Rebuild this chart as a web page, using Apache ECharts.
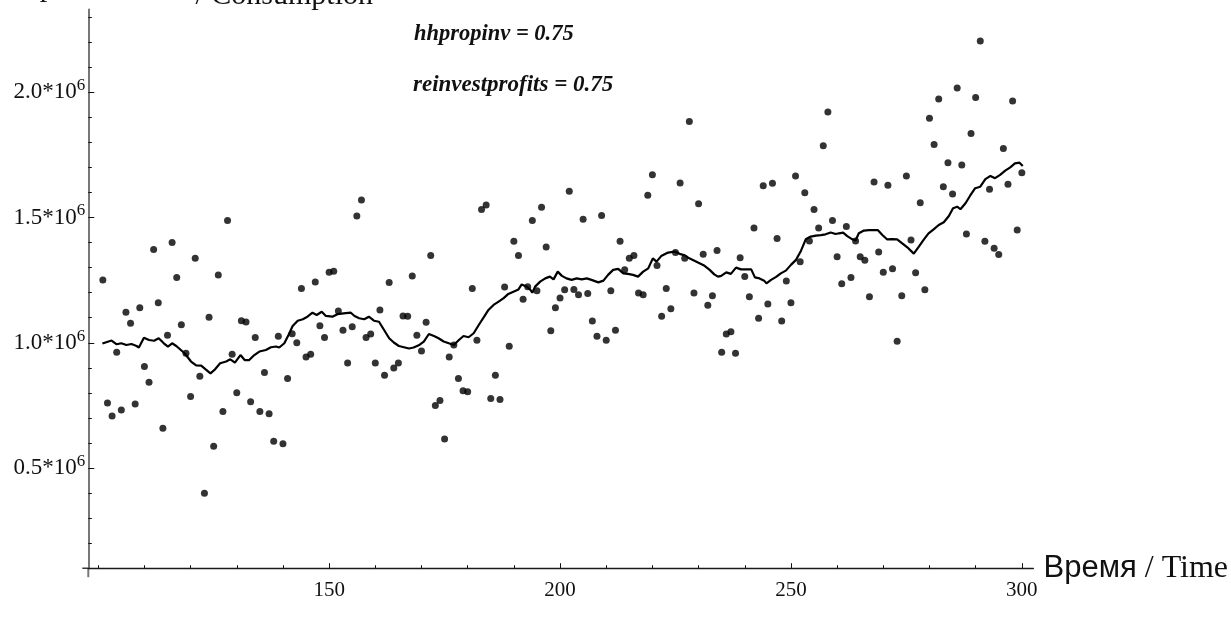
<!DOCTYPE html>
<html><head><meta charset="utf-8">
<script src="https://cdn.jsdelivr.net/npm/echarts@6/dist/echarts.min.js"></script>
<style>html,body{margin:0;padding:0;background:#fff}#c{width:1231px;height:619px}</style>
</head><body><div id="c"></div>
<script>
// Simulated consumption, in units of 10^6, one point per time step starting at firstStep
const firstStep = 101;
const pointValues = [
 1.251,0.760,0.708,0.962,0.732,1.122,1.078,0.756,1.140,0.905,
 0.842,1.372,1.160,0.659,1.030,1.400,1.261,1.072,0.958,0.785,
 1.337,0.866,0.399,1.102,0.587,1.271,0.726,1.488,0.954,0.800,
 1.088,1.083,0.765,1.021,0.726,0.881,0.717,0.607,1.026,0.597,
 0.857,1.036,1.000,1.217,0.943,0.954,1.243,1.068,1.021,1.281,
 1.285,1.127,1.050,0.919,1.064,1.506,1.570,1.021,1.035,0.919,
 1.131,0.870,1.241,0.899,0.919,1.107,1.106,1.267,1.030,0.967,
 1.082,1.348,0.750,0.770,0.616,0.943,0.991,0.857,0.808,0.804,
 1.217,1.010,1.532,1.550,0.778,0.870,0.774,1.223,0.986,1.405,
 1.348,1.174,1.224,1.488,1.208,1.541,1.382,1.048,1.140,1.179,
 1.212,1.605,1.213,1.192,1.493,1.197,1.087,1.026,1.508,1.010,
 1.208,1.050,1.405,1.291,1.337,1.348,1.199,1.192,1.589,1.671,
 1.308,1.106,1.217,1.136,1.360,1.638,1.337,1.883,1.199,1.555,
 1.353,1.150,1.188,1.368,0.962,1.035,1.044,0.958,1.339,1.265,
 1.184,1.458,1.098,1.627,1.155,1.637,1.416,1.087,1.247,1.160,
 1.666,1.323,1.599,1.406,1.532,1.458,1.786,1.921,1.488,1.343,
 1.236,1.464,1.261,1.406,1.343,1.329,1.184,1.642,1.362,1.281,
 1.629,1.295,1.006,1.188,1.666,1.410,1.280,1.559,1.212,1.896,
 1.791,1.973,1.623,1.719,1.594,2.017,1.710,1.434,1.835,1.979,
 2.205,1.405,1.613,1.377,1.352,1.776,1.633,1.965,1.450,1.679
];
const timeSteps = pointValues.map((_, i) => firstStep + i);

// Smoothed curve
const lineTime = [
 100.9,102.9,104.0,105.0,106.1,107.2,108.3,108.8,109.9,111.0,112.1,113.1,114.2,115.1,116.0,116.9,118.7,120.1,121.2,122.3,
 123.2,124.3,125.3,126.4,127.7,128.6,129.6,130.8,131.7,132.7,133.8,134.9,136.3,137.4,138.5,139.2,140.3,141.2,142.1,143.2,
 144.3,145.3,146.4,147.3,148.4,149.3,150.7,151.8,153.6,154.7,155.5,156.5,157.6,158.6,159.7,160.8,161.9,163.0,164.0,165.1,
 166.2,167.3,168.3,169.4,170.5,171.6,172.7,173.7,174.8,175.9,177.0,178.1,179.1,180.2,181.3,182.4,183.5,184.5,185.6,186.7,
 187.8,188.8,189.9,191.0,191.7,192.8,193.5,194.0,194.6,195.7,196.8,197.8,198.6,199.5,200.4,201.4,202.5,203.6,204.7,205.8,
 206.8,208.3,209.4,210.4,211.5,212.6,213.7,214.7,215.8,216.9,218.0,219.1,220.1,220.9,221.9,223.4,224.8,225.9,227.0,228.0,
 229.1,230.2,231.3,232.4,233.4,234.2,234.9,236.0,237.0,238.1,239.2,240.3,241.4,242.2,243.2,244.2,244.7,245.7,246.8,247.8,
 248.9,250.0,251.1,252.1,253.2,254.3,255.4,256.5,257.5,258.6,259.7,260.4,261.3,262.2,263.3,264.0,264.7,265.8,266.9,268.0,
 268.8,269.8,270.8,271.9,273.0,274.1,275.2,276.6,277.7,278.8,279.8,280.9,282.0,283.1,284.2,285.1,286.0,286.7,287.8,288.8,
 289.9,291.0,292.1,293.2,294.2,295.3,296.4,297.5,298.5,299.5,300.2
];
const lineValue = [
 0.997,1.009,0.994,0.998,0.991,0.995,0.987,0.981,1.020,1.011,1.008,1.018,0.998,0.985,0.998,0.987,0.958,0.925,0.910,0.909,
 0.895,0.878,0.894,0.918,0.925,0.934,0.921,0.951,0.931,0.931,0.951,0.965,0.971,0.982,0.985,0.981,0.998,1.031,1.067,1.088,
 1.094,1.104,1.120,1.111,1.124,1.107,1.104,1.114,1.118,1.120,1.107,1.098,1.094,1.104,1.088,1.084,1.051,1.018,1.001,0.987,
 0.982,0.977,0.981,0.990,1.005,1.035,1.027,1.018,1.005,0.998,0.991,1.011,1.027,1.022,1.038,1.071,1.102,1.131,1.151,1.164,
 1.178,1.195,1.204,1.213,1.233,1.224,1.213,1.200,1.224,1.244,1.257,1.264,1.253,1.284,1.267,1.257,1.251,1.257,1.253,1.257,
 1.251,1.241,1.248,1.271,1.291,1.295,1.277,1.275,1.271,1.264,1.284,1.297,1.337,1.324,1.346,1.360,1.364,1.355,1.349,1.337,
 1.327,1.317,1.307,1.291,1.273,1.264,1.267,1.281,1.275,1.300,1.293,1.293,1.293,1.261,1.257,1.248,1.237,1.251,1.263,1.277,
 1.288,1.311,1.331,1.364,1.413,1.424,1.428,1.430,1.433,1.440,1.434,1.437,1.440,1.426,1.413,1.408,1.437,1.448,1.450,1.450,
 1.450,1.430,1.413,1.414,1.413,1.397,1.381,1.356,1.384,1.413,1.437,1.453,1.470,1.481,1.506,1.537,1.543,1.533,1.557,1.587,
 1.617,1.623,1.653,1.666,1.657,1.670,1.687,1.700,1.716,1.719,1.706
];

const xMajorTicks = [150, 200, 250, 300];
const xMinorTicks = [100, 110, 120, 130, 140, 160, 170, 180, 190, 210, 220, 230, 240, 260, 270, 280, 290];
const yMajorTicks = [0.5, 1.0, 1.5, 2.0];
const yMinorTicks = [0.2, 0.3, 0.4, 0.6, 0.7, 0.8, 0.9, 1.1, 1.2, 1.3, 1.4, 1.6, 1.7, 1.8, 1.9, 2.1, 2.2, 2.3];
const paramLabels = ['hhpropinv = 0.75', 'reinvestprofits = 0.75'];
const topTitleRu = 'Потребление';
const topTitleEn = '/ Consumption';
const axisTitleRu = 'Время';
const axisTitleEn = '/ Time';

const SERIF = '"Liberation Serif", "Times New Roman", serif';
const SANS = '"Liberation Sans", Arial, sans-serif';
const X_MIN = 97.85, X_MAX = 302.5, Y_MIN = 0.1, Y_MAX = 2.33;
const GRID_LEFT = 88.3, GRID_TOP = 9.6, PX_PER_X = 4.634, PX_PER_Y = 250.5;
const GRID_W = (X_MAX - X_MIN) * PX_PER_X, GRID_H = (Y_MAX - Y_MIN) * PX_PER_Y;
const GRID_BOTTOM_Y = GRID_TOP + GRID_H;

const chart = echarts.init(document.getElementById('c'), null, {renderer: 'canvas'});
const tickLine = {color: '#111', width: 1};

chart.setOption({
  animation: false,
  backgroundColor: '#fff',
  grid: {left: GRID_LEFT, top: GRID_TOP, width: GRID_W, height: GRID_H, containLabel: false},
  xAxis: [
    {
      type: 'value', min: X_MIN, max: X_MAX, position: 'bottom', offset: 0,
      axisLine: {show: true, onZero: false, lineStyle: {color: '#1a1a1a', width: 1.3}},
      axisTick: {show: true, inside: true, length: 5, customValues: xMajorTicks, lineStyle: tickLine},
      axisLabel: {show: true, customValues: xMajorTicks, margin: 12, fontFamily: SERIF, fontSize: 21, color: '#111'},
      splitLine: {show: false},
      name: '{a|' + axisTitleRu + '}{b| ' + axisTitleEn + '}',
      nameLocation: 'end', nameGap: 5,
      nameTextStyle: {
        verticalAlign: 'middle',
        rich: {
          a: {fontFamily: SANS, fontSize: 31, color: '#111'},
          b: {fontFamily: SERIF, fontSize: 32, color: '#111'}
        }
      }
    },
    {
      type: 'value', min: X_MIN, max: X_MAX, position: 'bottom', offset: 0,
      axisLine: {show: false, onZero: false},
      axisTick: {show: true, inside: true, length: 3, customValues: xMinorTicks, lineStyle: tickLine},
      axisLabel: {show: false},
      splitLine: {show: false}
    }
  ],
  yAxis: [
    {
      type: 'value', min: Y_MIN, max: Y_MAX, position: 'left', offset: 0,
      axisLine: {show: true, onZero: false, lineStyle: {color: '#777', width: 2}},
      axisTick: {show: true, inside: true, length: 6, customValues: yMajorTicks, lineStyle: tickLine},
      axisLabel: {
        show: true, customValues: yMajorTicks, margin: 3,
        formatter: v => '{n|' + v.toFixed(1) + '*10}{s|6}',
        rich: {
          n: {fontFamily: SERIF, fontSize: 23, color: '#111', lineHeight: 30},
          s: {fontFamily: SERIF, fontSize: 17, color: '#111', lineHeight: 11, verticalAlign: 'top'}
        }
      },
      splitLine: {show: false}
    },
    {
      type: 'value', min: Y_MIN, max: Y_MAX, position: 'left', offset: 0,
      axisLine: {show: false, onZero: false},
      axisTick: {show: true, inside: true, length: 3.5, customValues: yMinorTicks, lineStyle: tickLine},
      axisLabel: {show: false},
      splitLine: {show: false}
    }
  ],
  graphic: [
    // small overhangs of the axes past their crossing point
    {type: 'line', silent: true, shape: {x1: GRID_LEFT, y1: GRID_BOTTOM_Y, x2: GRID_LEFT, y2: GRID_BOTTOM_Y + 9},
     style: {stroke: '#777', lineWidth: 2}},
    {type: 'line', silent: true, shape: {x1: GRID_LEFT - 6, y1: GRID_BOTTOM_Y, x2: GRID_LEFT, y2: GRID_BOTTOM_Y},
     style: {stroke: '#1a1a1a', lineWidth: 1.3}},
    // title clipped by the top edge
    {type: 'text', x: -10, y: -12, silent: true,
     style: {text: topTitleRu, font: '30px ' + SERIF, fill: '#111', align: 'left', verticalAlign: 'middle'}},
    {type: 'text', x: 373, y: -4, silent: true,
     style: {text: topTitleEn, font: '30px ' + SERIF, fill: '#111', align: 'right', verticalAlign: 'middle'}},
    {type: 'text', x: 414, y: 34, silent: true,
     style: {text: paramLabels[0], font: 'italic bold 22.5px ' + SERIF, fill: '#111', align: 'left', verticalAlign: 'middle'}},
    {type: 'text', x: 413, y: 85, silent: true,
     style: {text: paramLabels[1], font: 'italic bold 23px ' + SERIF, fill: '#111', align: 'left', verticalAlign: 'middle'}}
  ],
  series: [
    {
      type: 'scatter', xAxisIndex: 0, yAxisIndex: 0,
      symbol: 'circle', symbolSize: 7,
      itemStyle: {color: '#000'},
      data: timeSteps.map((t, i) => [t, pointValues[i]]),
      z: 2
    },
    {
      type: 'line', xAxisIndex: 0, yAxisIndex: 0,
      showSymbol: false, symbol: 'none',
      lineStyle: {color: '#000', width: 2.2},
      data: lineTime.map((t, i) => [t, lineValue[i]]),
      z: 3
    }
  ]
});
</script>
</body></html>
